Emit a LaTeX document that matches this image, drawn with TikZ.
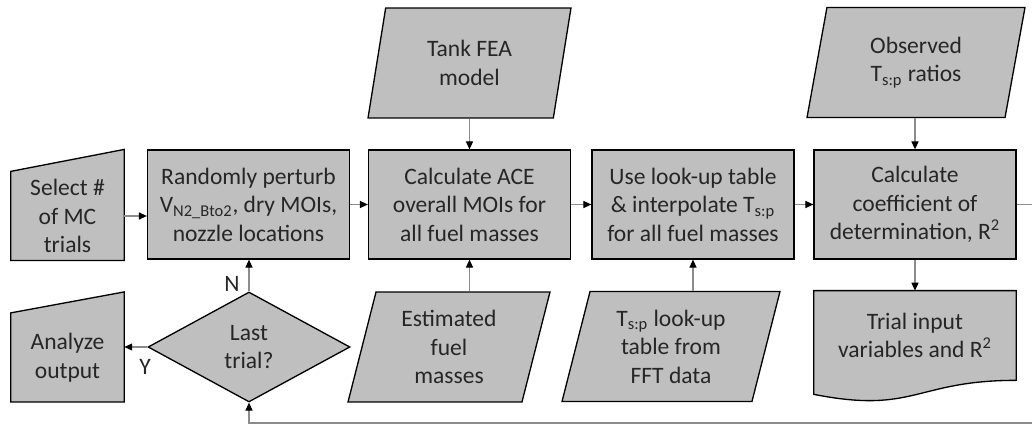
\documentclass[tikz,border=0pt]{standalone}
\usepackage{fontspec}
\setmainfont{Carlito}
\usepackage{xcolor}
\usetikzlibrary{shapes.geometric,arrows.meta,backgrounds}

\definecolor{boxgray}{HTML}{BFBFBF}
\definecolor{linegray}{HTML}{8C8C8C}

\begin{document}
\begin{tikzpicture}[x=0.02cm, y=-0.02cm,
    every node/.style = {align=center, text=black!85, inner sep=1pt,
      font=\fontsize{13.4}{16.2}\selectfont},
    box/.style = {draw=black, fill=boxgray, line width=0.75pt},
    procbox/.style = {box, rectangle, minimum width=4.04cm, minimum height=2.18cm},
    databox/.style = {box, trapezium, trapezium left angle=70,
      trapezium right angle=110, trapezium stretches body, minimum height=2.2cm},
    decbox/.style = {box, diamond, aspect=2, minimum width=4.04cm, minimum height=2.2cm},
    manbox/.style = {rectangle, minimum width=2.26cm, minimum height=1.77cm},
    docbox/.style = {rectangle, minimum width=4.04cm, minimum height=1.78cm},
    flow/.style = {draw=linegray, line width=0.6pt,
      -{Triangle[length=4.5pt, width=4pt, color=black]}}]
  \useasboundingbox (0,0) rectangle (1032,425);

  % inputs on top
  \node[databox, minimum width=4.06cm] (tank) at (469.5,63) {Tank FEA\\model};
  \node[databox, minimum width=4.36cm] (obs) at (916,62.5) {Observed\\T\textsubscript{s:p} ratios};

  % main chain
  \node[manbox] (sel) at (67.5,216) {Select \#\\of MC\\trials};
  \node[procbox] (rnd) at (248.5,204.5) {Randomly perturb\\V\textsubscript{N2\_Bto2}, dry MOIs,\\nozzle locations};
  \node[procbox] (ace) at (469.5,204.5) {Calculate ACE\\overall MOIs for\\all fuel masses};
  \node[procbox] (lut) at (693,204.5) {Use look-up table\\\& interpolate T\textsubscript{s:p}\\for all fuel masses};
  \node[procbox] (coef) at (915,204.5) {Calculate\\coefficient of\\determination, R\textsuperscript{2}};

  % bottom row
  \node[manbox] (ana) at (67.5,357.5) {Analyze\\output};
  \node[decbox] (last) at (249,347) {Last\\trial?};
  \node[databox, minimum width=4.04cm] (est) at (449,347) {Estimated\\fuel\\masses};
  \node[databox, minimum width=4.36cm] (fft) at (671,346.5) {T\textsubscript{s:p} look-up\\table from\\FFT data};
  \node[docbox] (trial) at (915,335.5) {Trial input\\variables and R\textsuperscript{2}};

  \node (nlab) at (232,284) {N};
  \node (ylab) at (145,367) {Y};

  % manual input and document outlines
  \begin{scope}[on background layer]
    \path[box] (sel.south west) -- (sel.north west) -- ([yshift=0.44cm]sel.north east)
      -- (sel.south east) -- cycle;
    \path[box] (ana.south west) -- (ana.north west) -- ([yshift=0.42cm]ana.north east)
      -- (ana.south east) -- cycle;
    \path[box] (trial.north west) -- (trial.north east) -- (trial.south east)
      .. controls (trial.south) and ([yshift=-0.68cm]trial.south)
      .. ([yshift=-0.28cm]trial.south west) -- cycle;
  \end{scope}

  \draw[flow] (ace.north |- tank.south) -- (ace.north);
  \draw[flow] (coef.north |- obs.south) -- (coef.north);
  \draw[flow] (sel.east) -- (sel.east -| rnd.west);
  \draw[flow] (rnd.east) -- (ace.west);
  \draw[flow] (ace.east) -- (lut.west);
  \draw[flow] (lut.east) -- (coef.west);
  \draw[flow] (ace.south |- est.north) -- (ace.south);
  \draw[flow] (lut.south |- fft.north) -- (lut.south);
  \draw[flow] (coef.south) -- (trial.north);
  \draw[flow] (last.north) -- (last.north |- rnd.south);
  \draw[flow] (last.west) -- (last.west -| ana.east);

  % back round for the next trial
  \coordinate (loop) at (1040,423);
  \draw[flow] (coef.east) -| (loop) -| (last.south);
\end{tikzpicture}
\end{document}
